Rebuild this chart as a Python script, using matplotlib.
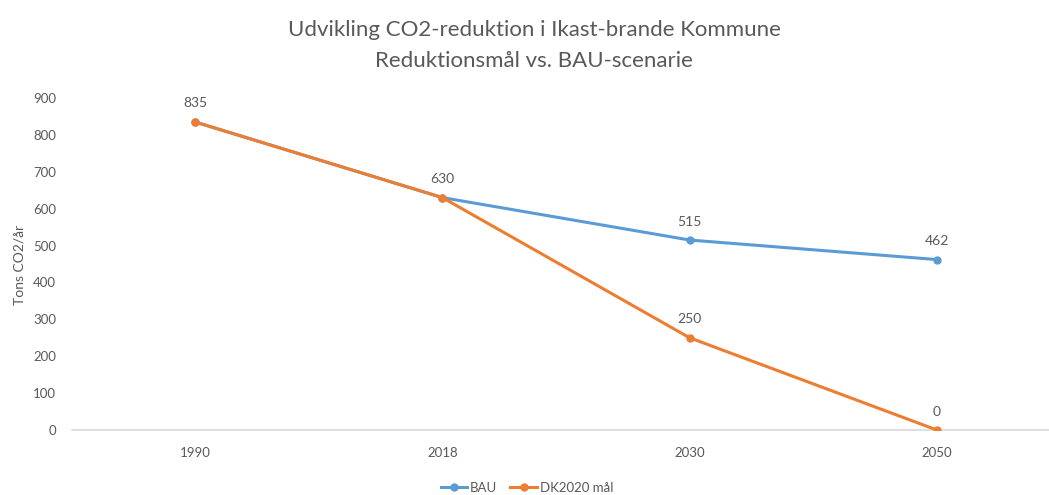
import matplotlib.pyplot as plt

years = ["1990", "2018", "2030", "2050"]
bau = [835, 630, 515, 462]
dk2020 = [835, 630, 250, 0]
yticks = [0, 100, 200, 300, 400, 500, 600, 700, 800, 900]

plt.rcParams['font.family'] = ['Lato', 'DejaVu Sans']
grey = '#595959'
blue = '#5B9BD5'
orange = '#ED7D31'

fig = plt.figure(figsize=(10.49, 4.95), dpi=100)
ax = fig.add_axes([71.5 / 1049, 65 / 495, 989 / 1049, 332 / 495])

x = range(len(years))
ax.plot(x, bau, color=blue, linewidth=2.2, marker='o', markersize=5, label='BAU', zorder=3)
ax.plot(x, dk2020, color=orange, linewidth=2.2, marker='o', markersize=5, label='DK2020 mål', zorder=4)

# DK2020 labels on every point, BAU only where the lines split
for i, v in enumerate(dk2020):
    ax.annotate(str(v), (i, v), xytext=(0, 9), textcoords='offset points',
                ha='center', va='bottom', fontsize=10, color=grey)
for i, v in enumerate(bau):
    if v != dk2020[i]:
        ax.annotate(str(v), (i, v), xytext=(0, 9), textcoords='offset points',
                    ha='center', va='bottom', fontsize=10, color=grey)

ax.set_xlim(-0.5, len(years) - 0.5)
ax.set_ylim(0, 900)
ax.set_xticks(list(x))
ax.set_xticklabels(years)
ax.set_yticks(yticks)
ax.tick_params(axis='both', length=0, labelsize=9.5, colors=grey)
ax.tick_params(axis='y', pad=11)
ax.tick_params(axis='x', pad=12)
for s in ['top', 'right', 'left']:
    ax.spines[s].set_visible(False)
ax.spines['bottom'].set_color('#D9D9D9')
ax.spines['bottom'].set_linewidth(1.2)

fig.text(20 / 1049, 1 - 265 / 495, "Tons CO2/år", rotation=90, ha='center', va='center',
         fontsize=10, color=grey)
fig.text(534 / 1049, 1 - 30 / 495, "Udvikling CO2-reduktion i Ikast-brande Kommune",
         ha='center', va='center', fontsize=16, color=grey)
fig.text(534 / 1049, 1 - 61 / 495, "Reduktionsmål vs. BAU-scenarie",
         ha='center', va='center', fontsize=16, color=grey)

fig.legend(loc='center', bbox_to_anchor=(527 / 1049, 1 - 488 / 495), ncol=2,
           frameon=False, fontsize=9.5, labelcolor=grey, handlelength=2.0,
           columnspacing=1.0, handletextpad=0.2)

fig.savefig('out.png', dpi=100)
